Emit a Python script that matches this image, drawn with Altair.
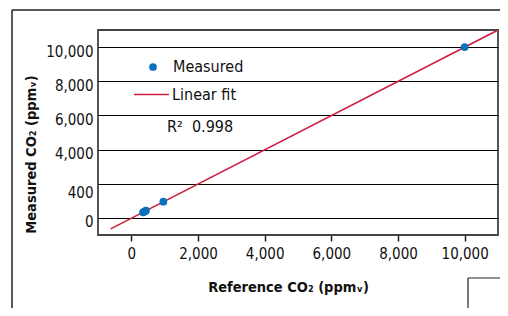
import altair as alt
import pandas as pd

# Measured points (reference CO2 vs measured CO2, ppmv)
ref_co2 = [350, 380, 410, 440, 960, 10000]
meas_co2 = [330, 360, 390, 430, 950, 10000]
series_points = ["Measured"] * len(ref_co2)

# Linear fit line endpoints
fit_x = [-620, 11000]
fit_y = [-640, 11000]
series_fit = ["Linear fit"] * len(fit_x)

y_ticks = [0, 2000, 4000, 6000, 8000, 10000]
x_ticks = [0, 2000, 4000, 6000, 8000, 10000]
r2_text = ["R\u00b2\u00a0\u00a00.998"]

FONT = "DejaVu Sans Condensed, Liberation Sans, sans-serif"
BLUE = "#0a72bd"
RED = "#cc1f3d"

pts = pd.DataFrame({"x": ref_co2, "y": meas_co2, "s": series_points})
fit = pd.DataFrame({"x": fit_x, "y": fit_y, "s": series_fit})

xscale = alt.Scale(domain=[-1000, 11000], nice=False, zero=False)
yscale = alt.Scale(domain=[-1000, 11000], nice=False, zero=False)

xaxis = alt.Axis(
    values=x_ticks, grid=False, domain=False, ticks=True, tickSize=6,
    tickColor="#222", tickWidth=1.5, labelFont=FONT, labelFontSize=15,
    labelColor="#111", labelPadding=5, labelExpr="format(datum.value, ',')",
    title="Reference CO\u2082 (ppm\u1d65)", titleFont=FONT, titleFontSize=14.5,
    titleFontWeight="bold", titleColor="#111", titleX=190, titleY=52,
    titleBaseline="middle", titleAnchor="middle",
)
yaxis = alt.Axis(
    values=y_ticks, grid=True, gridColor="#000", gridWidth=1.2, gridOpacity=1,
    domain=False, ticks=False, labelFont=FONT, labelFontSize=15,
    labelColor="#111", labelPadding=5,
    labelExpr="datum.value == 2000 ? '400' : format(datum.value, ',')",
    labelOffset=alt.ExprRef("datum.value == 2000 ? 9 : 4"),
    title="Measured CO\u2082 (ppm\u1d65)", titleFont=FONT, titleFontSize=14.5,
    titleFontWeight="bold", titleColor="#111", titleX=-67, titleY=124,
    titleAngle=-90, titleBaseline="middle", titleAnchor="middle",
)

line = alt.Chart(fit).mark_line(strokeWidth=1.6, clip=True).encode(
    x=alt.X("x:Q", scale=xscale, axis=xaxis),
    y=alt.Y("y:Q", scale=yscale, axis=yaxis),
    stroke=alt.Stroke(
        "s:N", scale=alt.Scale(domain=["Linear fit"], range=[RED]),
        legend=alt.Legend(
            orient="none", legendX=35, legendY=46, title=None,
            symbolType="stroke", symbolSize=1225, symbolStrokeWidth=1.6,
            labelFont=FONT, labelFontSize=16, labelColor="#111", labelOffset=2,
        ),
    ),
)

points = alt.Chart(pts).mark_circle(size=60, opacity=1).encode(
    x=alt.X("x:Q", scale=xscale),
    y=alt.Y("y:Q", scale=yscale),
    fill=alt.Fill(
        "s:N", scale=alt.Scale(domain=["Measured"], range=[BLUE]),
        legend=alt.Legend(
            orient="none", legendX=34, legendY=29, title=None,
            symbolType="circle", symbolSize=60, symbolStrokeWidth=0,
            labelFont=FONT, labelFontSize=16, labelColor="#111",
            labelOffset=12, symbolOffset=13,
        ),
    ),
)

r2 = alt.Chart(pd.DataFrame({"t": r2_text})).mark_text(
    font=FONT, fontSize=16, color="#111", align="left", baseline="middle"
).encode(x=alt.value(69), y=alt.value(97), text="t:N")

# page decorations (outer frame and box corner)
deco_h = alt.Chart(pd.DataFrame({"k": [0]})).mark_rule(
    color="#222", strokeWidth=1.5
).encode(
    x=alt.value(-86), x2=alt.value(420), y=alt.value(-20)
)
deco_v = alt.Chart(pd.DataFrame({"k": [0]})).mark_rule(
    color="#222", strokeWidth=1.5
).encode(
    x=alt.value(-86), y=alt.value(-20), y2=alt.value(300)
)
box_v = alt.Chart(pd.DataFrame({"k": [0]})).mark_rule(
    color="#222", strokeWidth=1.2
).encode(
    x=alt.value(370), y=alt.value(248), y2=alt.value(300)
)
box_h = alt.Chart(pd.DataFrame({"k": [0]})).mark_rule(
    color="#222", strokeWidth=1.2
).encode(
    x=alt.value(370), x2=alt.value(420), y=alt.value(248)
)

chart = alt.layer(line, points, r2, deco_h, deco_v, box_v, box_h).resolve_legend(
    fill="independent", stroke="independent"
).properties(
    width=400, height=205,
    autosize=alt.AutoSizeParams(type="none"),
    padding={"left": 90, "top": 22, "right": 2, "bottom": 73},
    background="white",
).configure_view(
    stroke="#444", strokeWidth=1.8
)

chart.save("out.html", embed_options={"renderer": "svg", "actions": False})
